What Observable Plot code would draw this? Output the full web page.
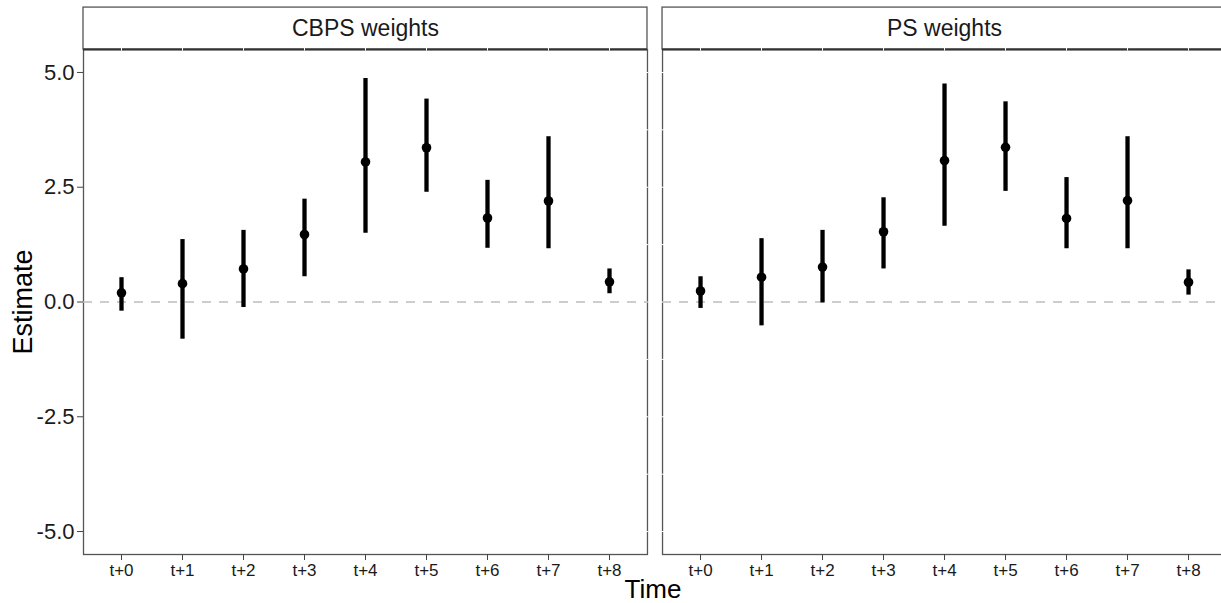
<!DOCTYPE html>
<html><head><meta charset="utf-8">
<script src="https://cdn.jsdelivr.net/npm/d3@7"></script>
<script src="https://cdn.jsdelivr.net/npm/@observablehq/plot@0.6"></script>
<style>
html,body{margin:0;padding:0;background:#fff;overflow:hidden;}
#chart{width:1221px;height:603px;overflow:hidden;position:relative;}
#chart svg{max-width:none !important;}
</style></head><body><div id="chart"></div>
<script>
const panels = ["CBPS weights", "PS weights"];
const times = ["t+0","t+1","t+2","t+3","t+4","t+5","t+6","t+7","t+8"];
const cbpsEst = [0.20, 0.40, 0.72, 1.47, 3.05, 3.36, 1.83, 2.20, 0.44];
const cbpsLo  = [-0.20, -0.81, -0.12, 0.55, 1.50, 2.39, 1.17, 1.16, 0.18];
const cbpsHi  = [0.53, 1.36, 1.56, 2.24, 4.87, 4.42, 2.65, 3.60, 0.72];
const psEst   = [0.24, 0.54, 0.76, 1.53, 3.08, 3.37, 1.82, 2.21, 0.43];
const psLo    = [-0.14, -0.52, -0.02, 0.72, 1.65, 2.41, 1.16, 1.16, 0.15];
const psHi    = [0.55, 1.38, 1.56, 2.27, 4.75, 4.36, 2.71, 3.60, 0.70];
const yTicks  = [-5, -2.5, 0, 2.5, 5];
const yGrid   = [-5, -3.75, -2.5, -1.25, 0, 1.25, 2.5, 3.75, 5];
const xTitle = "Time";
const yTitle = "Estimate";

const rows = [];
times.forEach((t, i) => {
  rows.push({panel: panels[0], time: t, est: cbpsEst[i], lo: cbpsLo[i], hi: cbpsHi[i]});
  rows.push({panel: panels[1], time: t, est: psEst[i], lo: psLo[i], hi: psHi[i]});
});
const strips = panels.map(p => ({panel: p}));
const grid1 = yGrid.map(v => ({panel: panels[0], v}));
const grid2 = yGrid.map(v => ({panel: panels[1], v}));

const font = "'Liberation Sans', Arial, Helvetica, sans-serif";
const yMax = 5.5, stripTop = 5.5 + 42 / 46;

const chart = Plot.plot({
  width: 1226, height: 603,
  marginLeft: 83, marginRight: 0, marginTop: 49, marginBottom: 49,
  style: {fontFamily: font, background: "white", overflow: "visible", maxWidth: "none"},
  fx: {domain: panels, paddingInner: 0.026, paddingOuter: 0, round: false, axis: null, label: null},
  x: {domain: times, type: "point", padding: 0.6, label: null},
  y: {domain: [-5.5, 5.5], label: null},
  marks: [
    Plot.frame({stroke: "#555", strokeWidth: 1.3}),
    Plot.ruleY(grid1, {fx: "panel", y: "v", stroke: "white", strokeWidth: 1, insetLeft: 3, insetRight: -1}),
    Plot.ruleY(grid2, {fx: "panel", y: "v", stroke: "white", strokeWidth: 1, insetLeft: -1, insetRight: 3}),
    Plot.ruleY([0], {stroke: "#bdbdbd", strokeWidth: 1.6, strokeDasharray: "9,8"}),
    Plot.ruleX(rows, {fx: "panel", x: "time", y1: "lo", y2: "hi", stroke: "black", strokeWidth: 4.3}),
    Plot.dot(rows, {fx: "panel", x: "time", y: "est", r: 4.8, fill: "black", stroke: null}),
    Plot.rect(strips, {fx: "panel", y1: () => yMax, y2: () => stripTop, fill: "white", stroke: "#555", strokeWidth: 1.3}),
    Plot.ruleY([yMax], {stroke: "#333", strokeWidth: 2.2}),
    Plot.ruleX(times, {x: d => d, y1: () => yMax - 0.035, y2: () => yMax + 0.035, stroke: "white", strokeWidth: 1}),
    Plot.text(strips, {fx: "panel", text: "panel", y: () => (yMax + stripTop) / 2, fontSize: 23, fill: "#1a1a1a"}),
    Plot.axisY(yTicks, {tickFormat: d => d.toFixed(1), fontSize: 22, tickSize: 6, tickPadding: 3, stroke: "#444", fill: "#1a1a1a", label: null}),
    Plot.axisX({tickSize: 6, tickPadding: 3, fontSize: 17, stroke: "#444", fill: "#1a1a1a", label: null})
  ]
});
document.getElementById("chart").appendChild(chart);

const svg = d3.select(chart);
svg.append("text").attr("x", 653).attr("y", 598).attr("text-anchor", "middle")
  .attr("font-family", font).attr("font-size", 26).attr("fill", "#000").text(xTitle);
svg.append("text").attr("transform", "translate(32,302) rotate(-90)").attr("text-anchor", "middle")
  .attr("font-family", font).attr("font-size", 27).attr("fill", "#000").text(yTitle);
</script></body></html>
